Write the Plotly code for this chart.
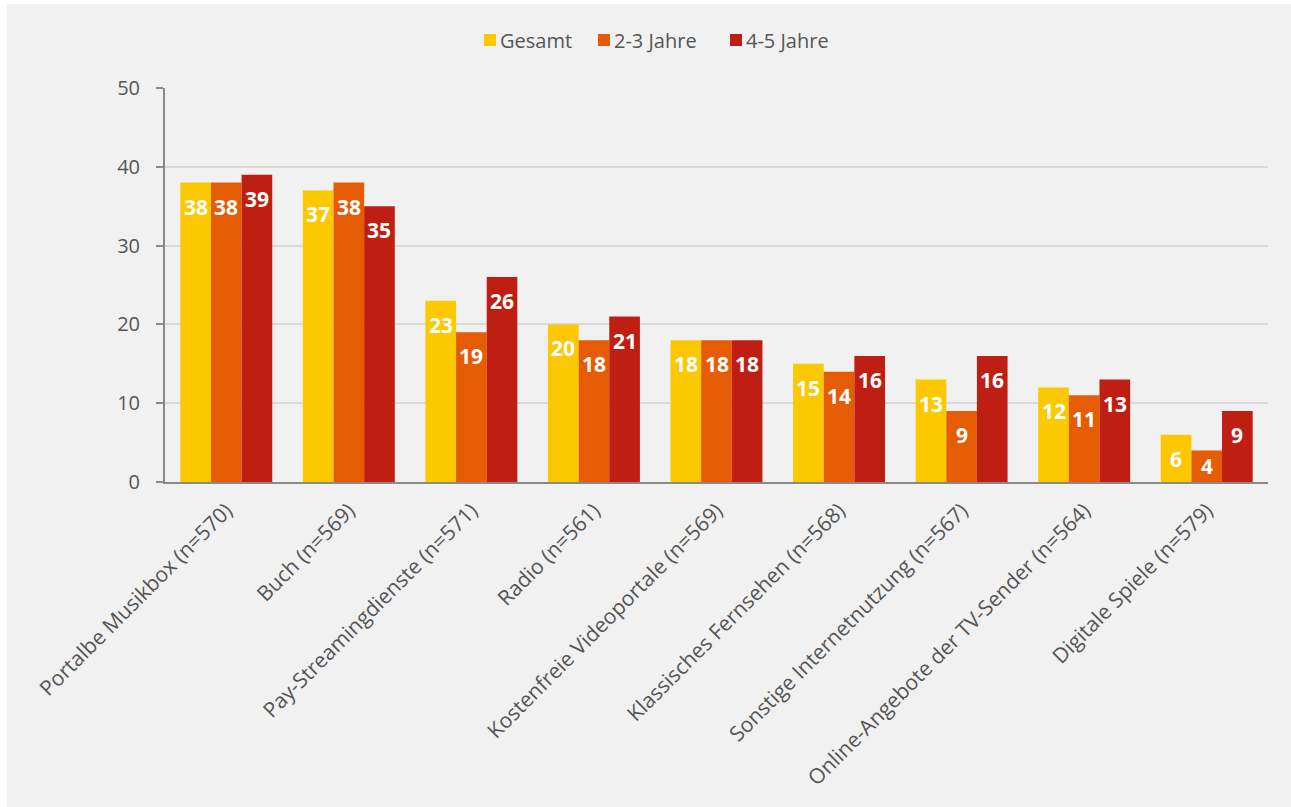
import plotly.graph_objects as go

categories = [
    "Portalbe Musikbox (n=570)",
    "Buch (n=569)",
    "Pay-Streamingdienste (n=571)",
    "Radio (n=561)",
    "Kostenfreie Videoportale (n=569)",
    "Klassisches Fernsehen (n=568)",
    "Sonstige Internetnutzung (n=567)",
    "Online-Angebote der TV-Sender (n=564)",
    "Digitale Spiele (n=579)",
]
gesamt = [38, 37, 23, 20, 18, 15, 13, 12, 6]
jahre_2_3 = [38, 38, 19, 18, 18, 14, 9, 11, 4]
jahre_4_5 = [39, 35, 26, 21, 18, 16, 16, 13, 9]

series = [
    ("Gesamt", gesamt, "#FCC800"),
    ("2-3 Jahre", jahre_2_3, "#E55C05"),
    ("4-5 Jahre", jahre_4_5, "#BF1E12"),
]

FONT = "Open Sans"
W, H = 1291, 807
L, R, T, B = 165, 23, 88, 325
PW, PH = W - L - R, H - T - B
Y_MAX = 50
BARGAP = 0.25
BAR_PX = PW / len(categories) * (1 - BARGAP) / len(series)
LABEL_PX = 40  # bars shorter than this get a centred label


def px_x(x):
    return (x - L) / PW


def px_y(y):
    return (H - B - y) / PH


fig = go.Figure()
annotations = []
for i, (name, vals, color) in enumerate(series):
    fig.add_trace(go.Bar(
        x=categories, y=vals, name=name, showlegend=False,
        marker=dict(color=color, line=dict(width=0)),
    ))
    # value labels just inside the top of each bar
    for cat, v in zip(categories, vals):
        short = v * PH / Y_MAX < LABEL_PX
        annotations.append(dict(
            x=cat, y=v / 2 if short else v, xref="x", yref="y",
            text=str(v), showarrow=False,
            xanchor="center", yanchor="middle" if short else "top",
            yshift=0 if short else -8,
            xshift=(i - 1) * BAR_PX,
            font=dict(family=FONT, size=21, color="white", weight="bold"),
        ))

# legend row: coloured square + label per series
legend_left = [484, 598, 730]
shapes = [dict(
    type="rect", xref="paper", yref="paper", layer="below",
    x0=px_x(7), x1=1 + R / PW, y0=-B / PH, y1=px_y(4),
    fillcolor="#f1f1f1", line=dict(width=0),
)]
for (name, _, color), x in zip(series, legend_left):
    shapes.append(dict(
        type="rect", xref="paper", yref="paper",
        x0=px_x(x), x1=px_x(x + 12), y0=px_y(46), y1=px_y(34),
        fillcolor=color, line=dict(width=0),
    ))
    annotations.append(dict(
        text=name, xref="paper", yref="paper", x=px_x(x + 14), y=px_y(40),
        xanchor="left", yanchor="middle", showarrow=False,
        font=dict(family=FONT, size=20, color="#555555"),
    ))

fig.update_layout(
    width=W, height=H,
    barmode="group", bargap=BARGAP, bargroupgap=0,
    paper_bgcolor="white", plot_bgcolor="#f1f1f1",
    margin=dict(l=L, r=R, t=T, b=B),
    font=dict(family=FONT, color="#555555"),
    annotations=annotations,
    shapes=shapes,
)
fig.update_yaxes(
    range=[0, Y_MAX], dtick=10, showgrid=True, gridcolor="#d9d9d9", gridwidth=1.5,
    showline=True, linecolor="#8a8a8a", linewidth=2, ticks="outside",
    ticklen=7, tickcolor="#8a8a8a", tickwidth=2, ticklabelstandoff=12,
    tickfont=dict(size=20, color="#555555"), zeroline=False,
)
fig.update_xaxes(
    showline=True, linecolor="#8a8a8a", linewidth=2, ticks="",
    tickangle=-45, tickfont=dict(size=21, color="#555555"), ticklabelstandoff=6,
)

fig.write_html("out.html")
